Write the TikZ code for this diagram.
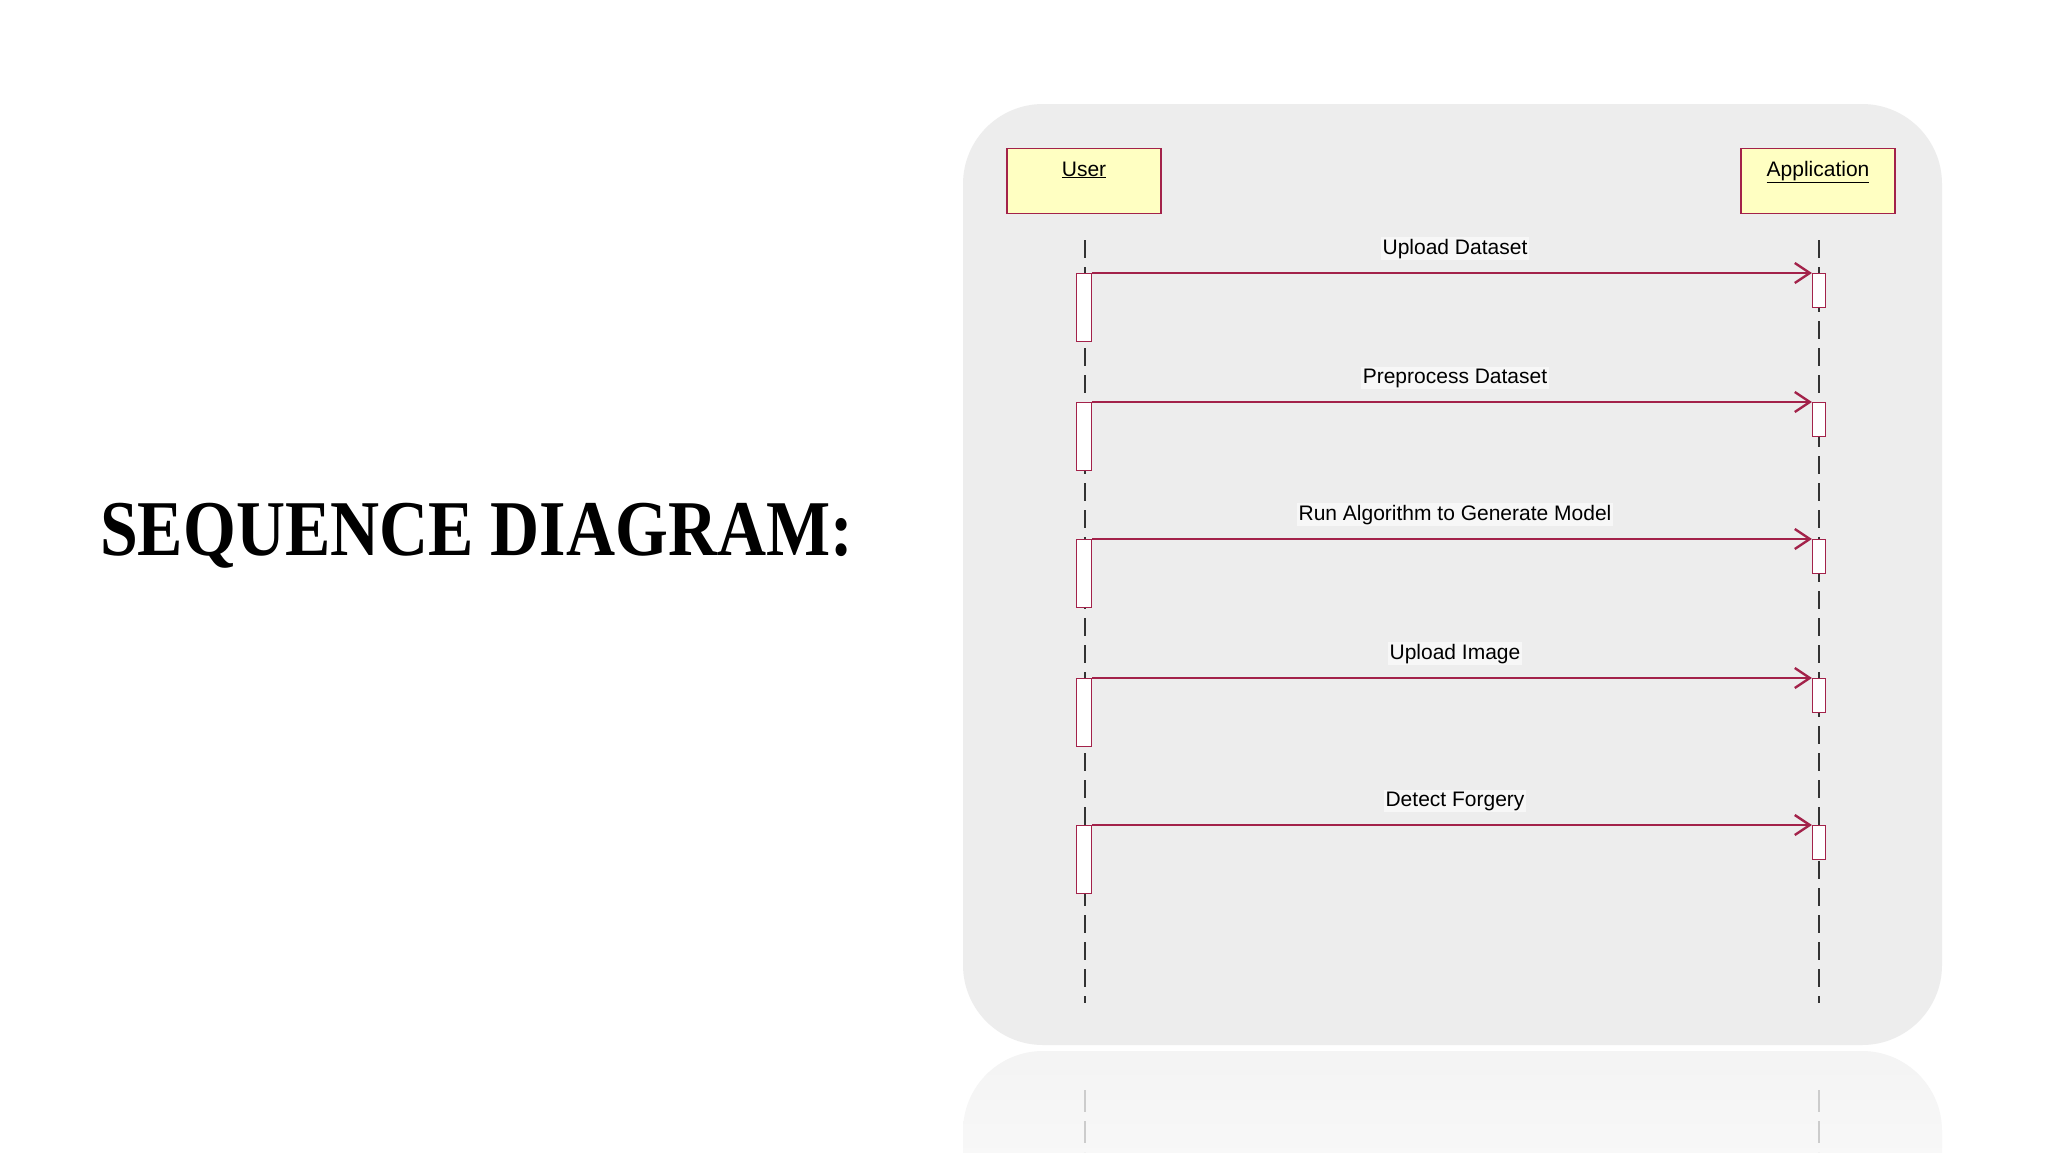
\documentclass[tikz,border=0pt]{standalone}
\usepackage{fontspec}
\setmainfont{Liberation Sans}
\newfontfamily\titlefont{Liberation Serif}
\usetikzlibrary{arrows.meta}
\definecolor{panelgray}{HTML}{EDEDED}
\definecolor{msgred}{HTML}{A3224A}
\definecolor{boxyellow}{HTML}{FFFFC2}
\definecolor{dashgray}{HTML}{333333}
\tikzset{
  lifebox/.style={draw=msgred, fill=boxyellow, line width=1.2pt, minimum width=154pt, minimum height=65pt, inner sep=0pt},
  headlbl/.style={font=\fontsize{21}{24}\selectfont, inner sep=3pt, text=black},
  actU/.style={draw=msgred, fill=white, line width=1.1pt, minimum width=15pt, minimum height=68pt, inner sep=0pt},
  actA/.style={draw=msgred, fill=white, line width=1.1pt, minimum width=13pt, minimum height=34pt, inner sep=0pt},
  msg/.style={draw=msgred, line width=1.4pt, -{Straight Barb[length=15pt, width=20pt, line width=2.4pt]}},
  msglbl/.style={font=\fontsize{21}{24}\selectfont, fill=white!55!panelgray, inner sep=1.5pt, text=black},
  lifeline/.style={draw=dashgray, line width=1.2pt, dash pattern=on 18pt off 9pt},
}
\begin{document}
\begin{tikzpicture}[x=1pt,y=-1pt]
\useasboundingbox (0,0) rectangle (2048,1152);
\fill[white] (0,0) rectangle (2048,1152);
% reflection
\begin{scope}
\clip (0,1051) rectangle (2048,1152);
\shade[top color=gray!9, bottom color=white, rounded corners=80pt] (963,1051) rectangle (1942,1330);
\draw[gray!40, line width=1.2pt, dash pattern=on 22pt off 9pt] (1085,1090) -- (1085,1152);
\draw[gray!40, line width=1.2pt, dash pattern=on 22pt off 9pt] (1819,1090) -- (1819,1152);
\end{scope}
% panel
\fill[panelgray, rounded corners=80pt] (963,104) rectangle (1942,1045);
% title
\node[anchor=base west, inner sep=0pt] (title) at (100,555) {\scalebox{0.86}[1]{\titlefont\bfseries\fontsize{79}{90}\selectfont SEQUENCE DIAGRAM:}};
% lifeline headers
\node[lifebox, anchor=north] (user) at (1084,148) {};
\node[headlbl, anchor=base] (userlbl) at ([yshift=-28pt]user.north) {\underline{User}};
\node[lifebox, anchor=north] (app) at (1818,148) {};
\node[headlbl, anchor=base] (applbl) at ([yshift=-28pt]app.north) {\underline{Application}};
% lifelines
\coordinate (uend) at (1085,1003);
\coordinate (aend) at (1819,1003);
\coordinate (ustart) at (1085,240);
\coordinate (astart) at (1819,240);
\draw[lifeline] (ustart) -- (uend);
\draw[lifeline] (astart) -- (aend);
% activations and messages
\foreach \i/\y/\t in {1/273/Upload Dataset, 2/402/Preprocess Dataset, 3/539/Run Algorithm to Generate Model, 4/678/Upload Image, 5/825/Detect Forgery}{
  \node[actU, anchor=north] (u\i) at (1084,\y) {};
  \node[actA, anchor=north] (a\i) at (1819,\y) {};
  \draw[msg] (u\i.north east) -- (a\i.north west);
  \node[msglbl, anchor=base] (m\i) at (1455,\y-19) {\t};
}
\end{tikzpicture}
\end{document}
